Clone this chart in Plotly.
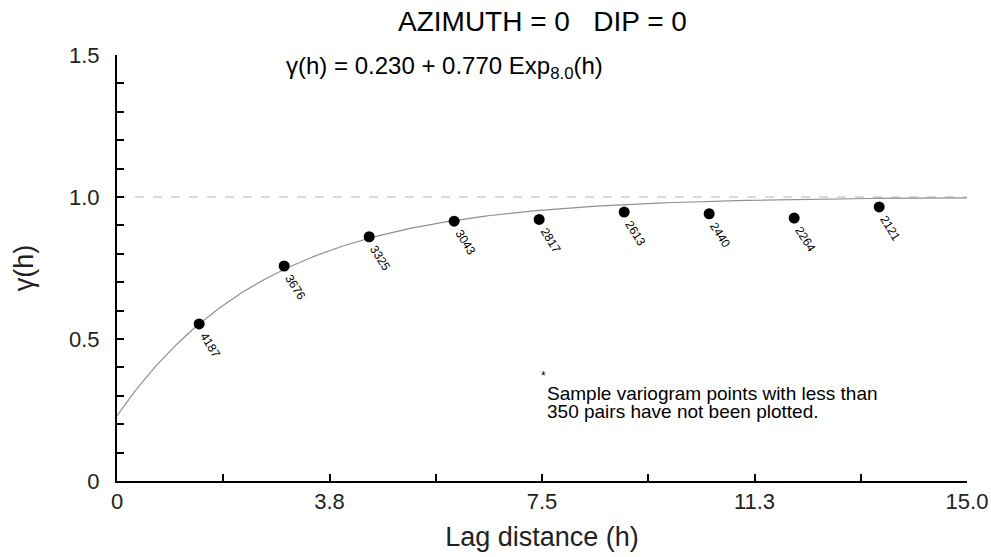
import numpy as np
import plotly.graph_objects as go

# Sample variogram points
lags = [1.45, 2.95, 4.45, 5.95, 7.45, 8.95, 10.45, 11.95, 13.45]
gammas = [0.553, 0.757, 0.860, 0.915, 0.921, 0.947, 0.941, 0.926, 0.965]
pairs = ["4187", "3676", "3325", "3043", "2817", "2613", "2440", "2264", "2121"]

# Model parameters (from the title formula)
nugget = 0.230
cc = 0.770
a_range = 8.0
sill = 1.0

x_ticks = [0, 1.875, 3.75, 5.625, 7.5, 9.375, 11.25, 13.125, 15.0]
x_ticktext = ["0", "", "3.8", "", "7.5", "", "11.3", "", "15.0"]
y_ticks = [round(0.1 * i, 1) for i in range(16)]
y_ticktext = ["0", "", "", "", "", "0.5", "", "", "", "", "1.0", "", "", "", "", "1.5"]

FONT = "Liberation Sans, Arial, sans-serif"

h = np.linspace(0, 15, 301)
model = nugget + cc * (1 - np.exp(-3 * h / a_range))

fig = go.Figure()
fig.add_trace(go.Scatter(x=[0, 15], y=[sill, sill], mode="lines",
                         line=dict(color="#b4b4b4", width=1, dash="dash"),
                         hoverinfo="skip", showlegend=False))
fig.add_trace(go.Scatter(x=h, y=model, mode="lines",
                         line=dict(color="#909090", width=1.2),
                         showlegend=False))
fig.add_trace(go.Scatter(x=lags, y=gammas, mode="markers",
                         marker=dict(color="black", size=11),
                         showlegend=False))

for xv, yv, t in zip(lags, gammas, pairs):
    fig.add_annotation(x=xv, y=yv, text=t, showarrow=False, textangle=58,
                       xshift=11, yshift=-21,
                       font=dict(family=FONT, size=12, color="black"))

fig.add_annotation(xref="paper", yref="paper", x=0.5, y=1.0, yshift=34,
                   yanchor="middle",
                   text="AZIMUTH = 0   DIP = 0", showarrow=False,
                   font=dict(family=FONT, size=28, color="black"))
fig.add_annotation(x=2.95, y=1.455, xanchor="left", yanchor="middle",
                   text="γ(h) = 0.230 + 0.770 Exp<sub>8.0</sub>(h)", showarrow=False,
                   font=dict(family=FONT, size=24, color="black"))
fig.add_annotation(x=7.52, y=0.37, showarrow=False, text="*",
                   font=dict(family=FONT, size=12, color="black"))
fig.add_annotation(x=7.55, y=0.309, xanchor="left", yanchor="middle",
                   text="Sample variogram points with less than", showarrow=False,
                   font=dict(family=FONT, size=19, color="black"))
fig.add_annotation(x=7.55, y=0.246, xanchor="left", yanchor="middle",
                   text="350 pairs have not been plotted.", showarrow=False,
                   font=dict(family=FONT, size=19, color="black"))

fig.update_layout(
    width=991, height=557,
    margin=dict(l=117, r=24, t=55, b=76, autoexpand=False),
    plot_bgcolor="white", paper_bgcolor="white",
    font=dict(family=FONT, color="#222"),
    xaxis=dict(range=[0, 15], tickvals=x_ticks, ticktext=x_ticktext,
               ticks="inside", ticklen=7, tickwidth=1.5, tickcolor="black",
               showline=True, linecolor="black", linewidth=2,
               showgrid=False, zeroline=False, automargin=False,
               tickfont=dict(size=22, color="#222"),
               title=dict(text="Lag distance (h)", font=dict(size=27, color="#222"), standoff=14)),
    yaxis=dict(range=[0, 1.5], tickvals=y_ticks, ticktext=y_ticktext,
               ticks="inside", ticklen=7, tickwidth=1.5, tickcolor="black",
               showline=True, linecolor="black", linewidth=2,
               showgrid=False, zeroline=False, ticklabelstandoff=11, automargin=False,
               tickfont=dict(size=22, color="#222"),
               title=dict(text="γ(h)", font=dict(size=27, color="#222"), standoff=28)),
)

fig.write_html("out.html", config={"displayModeBar": False},
               post_script="document.body.style.margin='0';document.body.style.overflow='hidden';")
